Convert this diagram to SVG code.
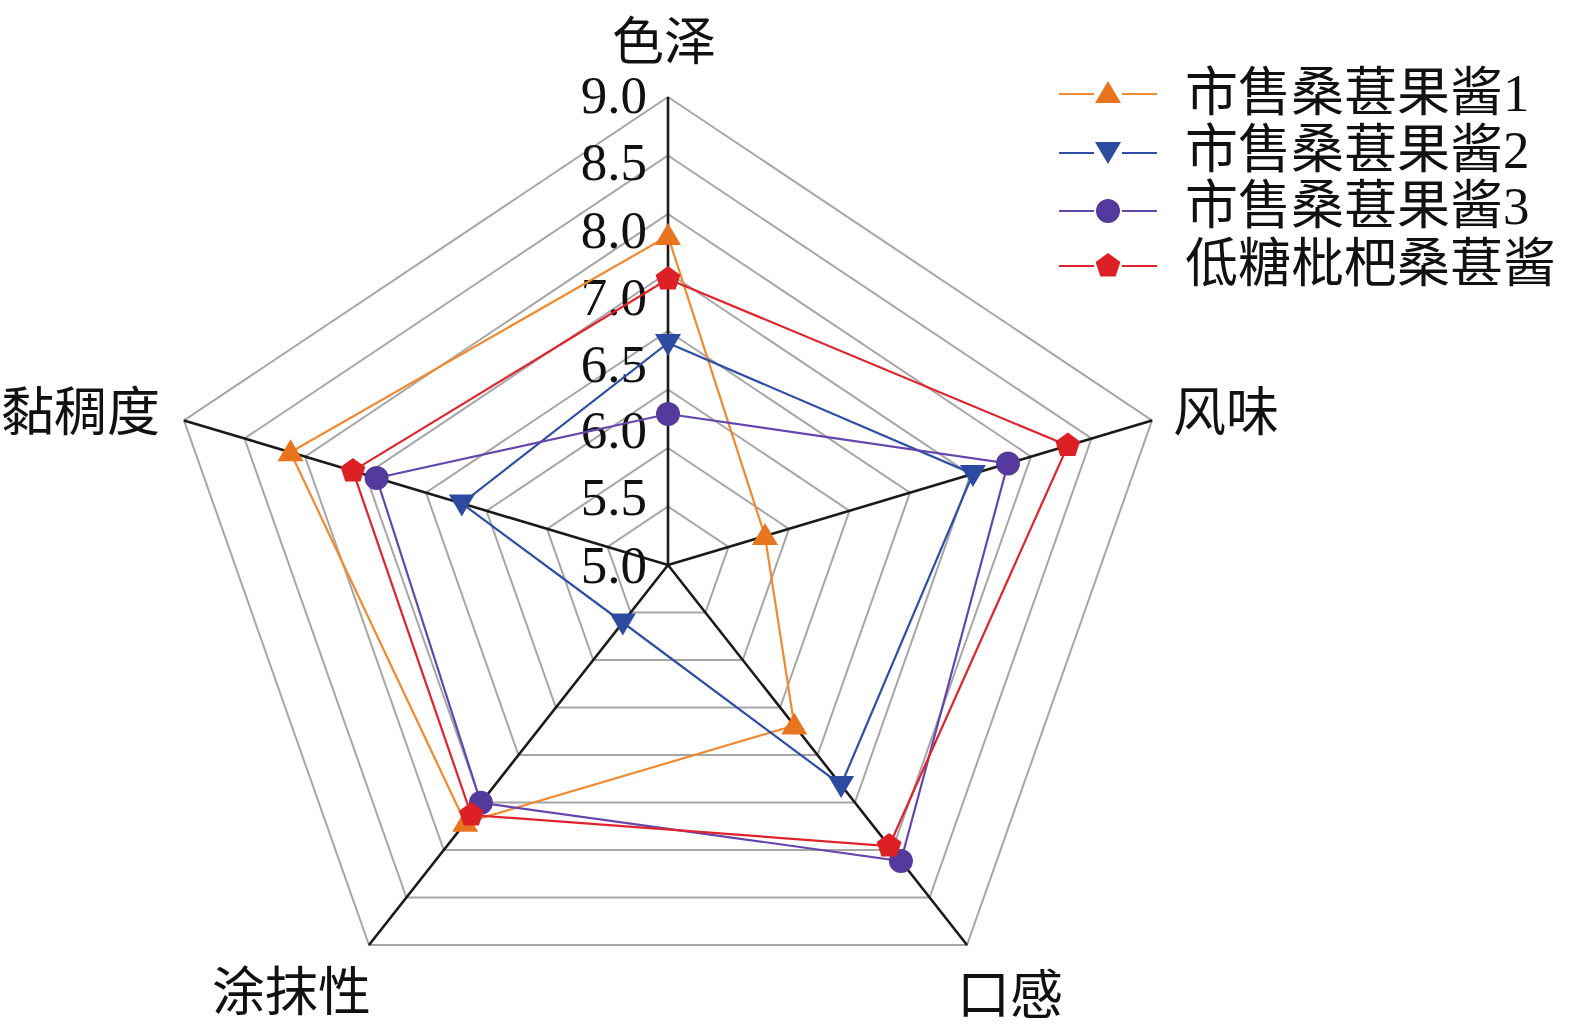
<svg xmlns="http://www.w3.org/2000/svg" xmlns:xlink="http://www.w3.org/1999/xlink" width="1575" height="1033" viewBox="0 0 1575 1033">
<style>
.ring{fill:none;stroke:#a6a6a6;stroke-width:2}
.axis{stroke:#1a1a1a;stroke-width:2.6;fill:none}
.tick{font-family:"Liberation Serif","Times New Roman",serif;font-size:53px;fill:#111}
.cat{font-family:"Noto Sans CJK SC","Noto Sans CJK JP",sans-serif;font-size:53px;fill:#111}
.leg{font-family:"Liberation Serif","Noto Sans CJK SC",serif;font-size:53px;fill:#111}
.s1{stroke:#f08a30;fill:none;stroke-width:2.2}
.s2{stroke:#2f4ea6;fill:none;stroke-width:2.2}
.s3{stroke:#6446ad;fill:none;stroke-width:2.2}
.s4{stroke:#e0232b;fill:none;stroke-width:2.2}
</style>
<defs>
<polygon id="m1" points="0,-13 13,9 -13,9" fill="#e8741e"/>
<polygon id="m2" points="-13,-9 13,-9 0,13" fill="#2c4aa0"/>
<circle id="m3" r="12" fill="#553a9e"/>
<polygon id="m4" points="0,-13 12.4,-4 7.6,10.5 -7.6,10.5 -12.4,-4" fill="#dd2026"/>
</defs>
<rect width="1575" height="1033" fill="#fff"/>
<g id="grid">
<polygon class="ring" points="668,506.5 728.5,546.9 705.4,612.5 630.6,612.5 607.5,546.9"/>
<polygon class="ring" points="668,448 789,528.9 742.75,660 593.25,660 547,528.9"/>
<polygon class="ring" points="668,389.5 849.5,510.8 780.1,707.5 555.9,707.5 486.5,510.8"/>
<polygon class="ring" points="668,331 910,492.7 817.5,755 518.5,755 426,492.7"/>
<polygon class="ring" points="668,272.5 970.5,474.6 854.9,802.5 481.1,802.5 365.5,474.6"/>
<polygon class="ring" points="668,214 1031,456.6 892.25,850 443.75,850 305,456.6"/>
<polygon class="ring" points="668,155.5 1091.5,438.5 929.6,897.5 406.4,897.5 244.5,438.5"/>
<polygon class="ring" points="668,97 1152,420.4 967,945 369,945 184,420.4"/>
<path class="axis" d="M668,565L668,97M668,565L1152,420.4M668,565L967,945M668,565L369,945M668,565L184,420.4"/>
</g>
<g id="ticks" class="tick" text-anchor="end">
<text x="647" y="113">9.0</text>
<text x="647" y="180">8.5</text>
<text x="647" y="248">8.0</text>
<text x="647" y="315">7.0</text>
<text x="647" y="382">6.5</text>
<text x="647" y="448">6.0</text>
<text x="647" y="515">5.5</text>
<text x="647" y="583">5.0</text>
</g>
<g id="categories" class="cat">
<text x="664" y="60" text-anchor="middle" font-size="52">色泽</text>
<text x="1173" y="431">风味</text>
<text x="957" y="1014">口感</text>
<text x="212" y="1011">涂抹性</text>
<text x="1" y="431">黏稠度</text>
</g>
<g id="connectors">
<polygon class="s1" points="668,236 765,536.1 794.3,725.5 465.2,822.8 290.5,452.2"/>
<polygon class="s2" points="668,343 972.9,473.9 841.1,785 622.8,622.5 461.8,503.4"/>
<polygon class="s3" points="668,414 1008,463.4 900.9,861 480.9,802.8 376.6,478"/>
<polygon class="s4" points="668,279 1067.8,445.6 889.1,846 471.3,815 352.9,470.9"/>
</g>
<g id="series1">
<use xlink:href="#m1" x="668" y="236"/>
<use xlink:href="#m1" x="765" y="536.1"/>
<use xlink:href="#m1" x="794.3" y="725.5"/>
<use xlink:href="#m1" x="465.2" y="822.8"/>
<use xlink:href="#m1" x="290.5" y="452.2"/>
</g>
<g id="series2">
<use xlink:href="#m2" x="668" y="343"/>
<use xlink:href="#m2" x="972.9" y="473.9"/>
<use xlink:href="#m2" x="841.1" y="785"/>
<use xlink:href="#m2" x="622.8" y="622.5"/>
<use xlink:href="#m2" x="461.8" y="503.4"/>
</g>
<g id="series3">
<use xlink:href="#m3" x="668" y="414"/>
<use xlink:href="#m3" x="1008" y="463.4"/>
<use xlink:href="#m3" x="900.9" y="861"/>
<use xlink:href="#m3" x="480.9" y="802.8"/>
<use xlink:href="#m3" x="376.6" y="478"/>
</g>
<g id="series4">
<use xlink:href="#m4" x="668" y="279"/>
<use xlink:href="#m4" x="1067.8" y="445.6"/>
<use xlink:href="#m4" x="889.1" y="846"/>
<use xlink:href="#m4" x="471.3" y="815"/>
<use xlink:href="#m4" x="352.9" y="470.9"/>
</g>
<g id="legend">
<path class="s1" d="M1059,94H1094M1122,94H1157"/>
<use xlink:href="#m1" x="1108" y="94"/>
<text class="leg" x="1185" y="111">市售桑葚果酱1</text>
<path class="s2" d="M1059,153H1094M1122,153H1157"/>
<use xlink:href="#m2" x="1108" y="151"/>
<text class="leg" x="1185" y="167.5">市售桑葚果酱2</text>
<path class="s3" d="M1059,211H1094M1122,211H1157"/>
<use xlink:href="#m3" x="1108" y="211"/>
<text class="leg" x="1185" y="224">市售桑葚果酱3</text>
<path class="s4" d="M1059,266H1094M1122,266H1157"/>
<use xlink:href="#m4" x="1108" y="266"/>
<text class="leg" x="1185" y="282">低糖枇杷桑葚酱</text>
</g>
</svg>
